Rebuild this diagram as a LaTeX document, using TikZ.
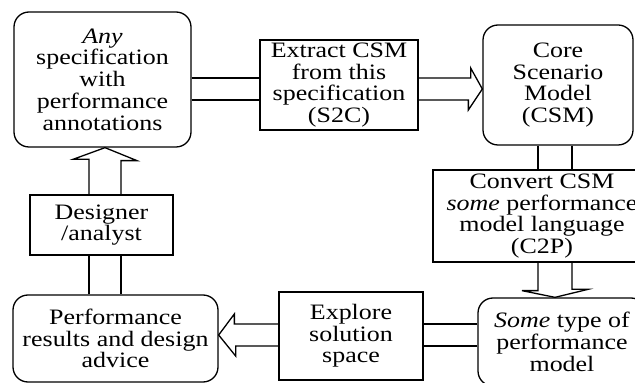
\documentclass[tikz,border=0pt]{standalone}
\usepackage{fontspec}
\setmainfont{Liberation Serif}[FakeStretch=1.18]

\begin{document}
\begin{tikzpicture}[
    x=1pt, y=1pt,
    every node/.style={font=\fontsize{22}{21.7}\selectfont},
    box/.style={draw, line width=1.3pt, fill=white, align=center, inner sep=0pt},
    rbox/.style={box, rounded corners=15pt},
    hollow/.style={draw, line width=1.3pt, line join=miter}
]
\useasboundingbox (0,0) rectangle (635,383);
\clip (0,0) rectangle (635,383);

% Nodes
\node[rbox, minimum width=177pt, minimum height=135pt] (spec) at (102.5,303.5) {\textit{Any}\\specification\\with\\performance\\annotations};
\node[box, minimum width=158pt, minimum height=90pt] (s2c) at (339,298) {Extract CSM\\from this\\specification\\(S2C)};
\node[rbox, minimum width=150pt, minimum height=120pt] (csm) at (558,298) {Core\\Scenario\\Model\\(CSM)};
\node[box, minimum width=218pt, minimum height=92pt] (c2p) at (542,167) {Convert CSM\\\textit{some} performance\\model language\\(C2P)};
\node[rbox, minimum width=168pt, minimum height=88pt] (perfmodel) at (562,41) {\textit{Some} type of\\performance\\model};
\node[box, minimum width=144pt, minimum height=88pt] (explore) at (351,47) {Explore\\solution\\space};
\node[rbox, minimum width=205pt, minimum height=87pt] (results) at (115.5,44.5) {Performance\\results and design\\advice};
\node[box, minimum width=143pt, minimum height=60pt] (designer) at (101.5,158) {Designer\\/analyst};

% Hollow arrows
\draw[hollow] ([yshift=1.5pt]spec.east) -- ([yshift=7pt]s2c.west);
\draw[hollow] ([yshift=-20.5pt]spec.east) -- ([yshift=-15pt]s2c.west);
\draw[hollow] ([yshift=7pt]s2c.east) -- ++(52,0) -- ++(0,10) -- ([yshift=-4pt]csm.west) -- ++(-14,-21) -- ++(0,10) -- ([yshift=-15pt]s2c.east);

\draw[hollow] ([xshift=-20pt]csm.south) -- ([xshift=-4pt]c2p.north);
\draw[hollow] ([xshift=14pt]csm.south) -- ([xshift=30pt]c2p.north);
\draw[hollow] ([xshift=-4pt]c2p.south) -- ++(0,-28) -- ++(-16,0) -- ([xshift=-7pt]perfmodel.north) -- ++(33,8) -- ++(-16,0) -- ([xshift=30pt]c2p.south);

\draw[hollow] ([yshift=18pt]perfmodel.west) -- ([yshift=12pt]explore.east);
\draw[hollow] ([yshift=-4pt]perfmodel.west) -- ([yshift=-10pt]explore.east);
\draw[hollow] ([yshift=12pt]explore.west) -- ++(-44,0) -- ++(0,10) -- ([yshift=3.5pt]results.east) -- ++(17,-21) -- ++(0,10) -- ([yshift=-10pt]explore.west);

\draw[hollow] ([xshift=-26.5pt]results.north) -- ([xshift=-12.5pt]designer.south);
\draw[hollow] ([xshift=5.5pt]results.north) -- ([xshift=19.5pt]designer.south);
\draw[hollow] ([xshift=-12.5pt]designer.north) -- ++(0,35) -- ++(-16,0) -- ([xshift=2.5pt]spec.south) -- ++(32,-13) -- ++(-16,0) -- ([xshift=19.5pt]designer.north);

\end{tikzpicture}
\end{document}
